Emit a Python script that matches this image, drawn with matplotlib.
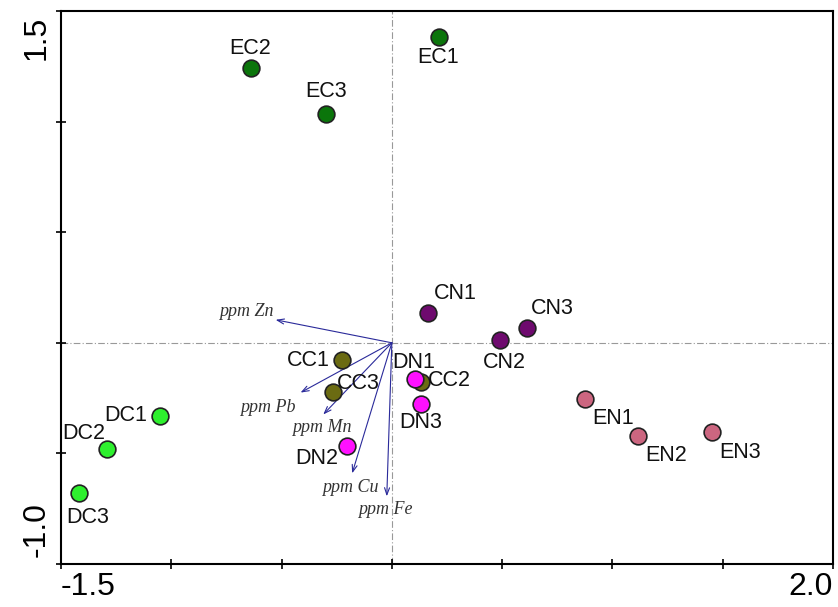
import numpy as np
import matplotlib
matplotlib.use('Agg')
from matplotlib import pyplot as plt

#==========================================
# sample scores
names = ['EC1', 'EC2', 'EC3', 'CN1', 'CN2', 'CN3', 'CC1', 'CC2', 'CC3',
         'DN1', 'DN2', 'DN3', 'DC1', 'DC2', 'DC3', 'EN1', 'EN2', 'EN3']
xs = [0.212, -0.640, -0.297, 0.162, 0.491, 0.613, -0.225, 0.131, -0.266,
      0.104, -0.203, 0.131, -1.050, -1.293, -1.419, 0.874, 1.117, 1.450]
ys = [1.383, 1.243, 1.036, 0.135, 0.014, 0.068, -0.077, -0.176, -0.221,
      -0.162, -0.468, -0.275, -0.333, -0.482, -0.680, -0.252, -0.423, -0.405]
groups = ['EC']*3 + ['CN']*3 + ['CC']*3 + ['DN']*3 + ['DC']*3 + ['EN']*3

# species / variable arrows
vars_ = ['ppm Zn', 'ppm Pb', 'ppm Mn', 'ppm Cu', 'ppm Fe']
vx = [-0.527, -0.414, -0.311, -0.180, -0.023]
vy = [0.104, -0.225, -0.324, -0.590, -0.694]

#==========================================
# style
warna = {'EC': '#0b750b', 'CN': '#6e0a6e', 'CC': '#6b6b12',
         'DN': '#ff10ff', 'DC': '#2ef02e', 'EN': '#cc6680'}
# label offset (pixel) from point
off = [(-1, -21), (-1, 19), (0, 22), (28, 19), (4, -23), (25, 19),
       (-34, -1), (29, 1), (25, 8), (-1, 16), (-30, -12), (0, -19),
       (-35, 1), (-23, 16), (9, -24), (28, -20), (28, -19), (28, -20)]
voff = [(-29, 8), (-33, -15), (-1, -13), (-2, -14), (-1, -13)]

plt.rcParams['font.family'] = ['Liberation Sans', 'DejaVu Sans']

fig = plt.figure(figsize=(8.38, 6.07), dpi=100)
ax = fig.add_axes([0.0728, 0.0708, 0.9212, 0.9111])
ax.set_xlim(-1.5, 1.98)
ax.set_ylim(-1.0, 1.49)

ax.axhline(0, color='#999999', lw=0.8, ls='-.', dashes=(6, 2, 1, 2), zorder=1)
ax.axvline(0, color='#999999', lw=0.8, ls='-.', dashes=(6, 2, 1, 2), zorder=1)

for i in range(len(vars_)):
    ax.annotate('', xy=(vx[i], vy[i]), xytext=(0, 0),
                arrowprops=dict(arrowstyle='->,head_length=0.5,head_width=0.18',
                                color='#2a2a9a', lw=0.8, shrinkA=0, shrinkB=0),
                zorder=2)
    ax.annotate(vars_[i], xy=(vx[i], vy[i]), xytext=voff[i], textcoords='offset pixels',
                ha='center', va='center', fontsize=13, style='italic',
                family='Liberation Serif', color='#333333', zorder=2)

for i in range(len(names)):
    ax.scatter(xs[i], ys[i], s=145, color=warna[groups[i]], edgecolor='#222222',
               linewidth=1.2, zorder=3)
    ax.annotate(names[i], xy=(xs[i], ys[i]), xytext=off[i], textcoords='offset pixels',
                ha='center', va='center', fontsize=15.5, color='#111111', zorder=4)

ax.set_xticks(np.arange(-1.5, 2.01, 0.5))
ax.set_yticks(np.arange(-1.0, 1.51, 0.5))
ax.set_xticklabels([])
ax.set_yticklabels([])
ax.tick_params(direction='inout', length=7, width=1.2)
for s in ax.spines.values():
    s.set_linewidth(1.5)

ax.text(0.0, -0.015, '-1.5', transform=ax.transAxes, ha='left', va='top', fontsize=23)
ax.text(1.0, -0.015, '2.0', transform=ax.transAxes, ha='right', va='top', fontsize=23)
ax.text(-0.012, 0.991, '1.5', transform=ax.transAxes, ha='right', va='top',
        rotation=90, fontsize=23)
ax.text(-0.012, 0.013, '-1.0', transform=ax.transAxes, ha='right', va='bottom',
        rotation=90, fontsize=23)

plt.savefig('out.png', dpi=100)
